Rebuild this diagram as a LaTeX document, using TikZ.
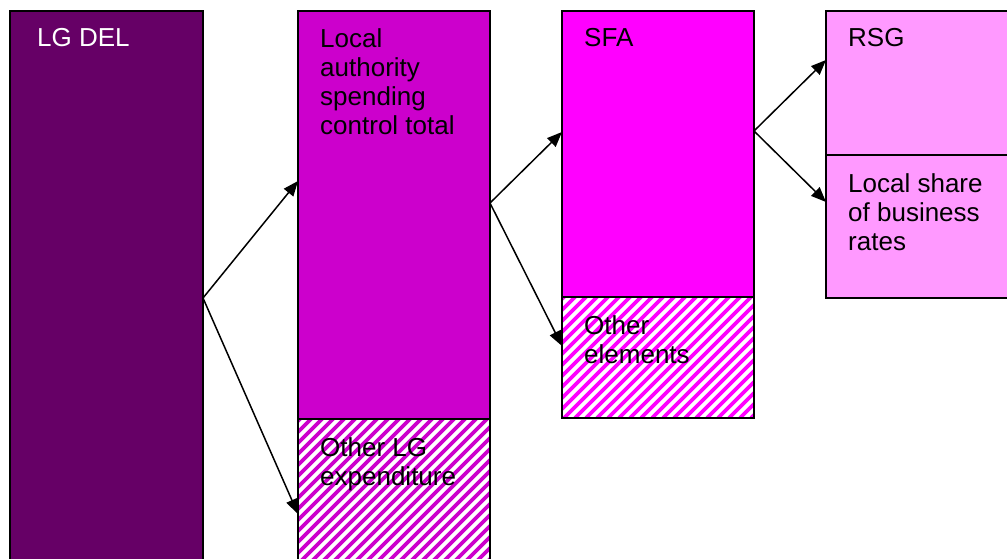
\documentclass[tikz,border=0pt]{standalone}
\usepackage{fontspec}
\setmainfont{Liberation Sans}
\usetikzlibrary{arrows.meta}
\definecolor{cdel}{HTML}{660066}
\definecolor{cla}{HTML}{CC00CC}
\definecolor{csfa}{HTML}{FF00FF}
\definecolor{crsg}{HTML}{FF99FF}
\tikzset{
  box/.style={draw=black, line width=1.6pt, inner sep=0pt, outer sep=0pt, anchor=north west},
  lbl/.style={anchor=north west, align=left, inner sep=0pt, font=\fontsize{26}{29.2}\selectfont},
  conn/.style={draw=black, line width=1.5pt, -{Triangle[length=15pt,width=12pt]}}
}
\begin{document}
\begin{tikzpicture}[x=1pt,y=-1pt]
\useasboundingbox (0,0) rectangle (1007,559);
\clip (0,0) rectangle (1007,559);
\fill[white] (0,0) rectangle (1007,559);
% LG DEL
\node[box, fill=cdel, minimum width=193pt, minimum height=560pt] (del) at (10,11) {};
\node[lbl, text=white] (tdel) at (37,28) {LG DEL};
% Local authority spending
\node[box, fill=cla, minimum width=192pt, minimum height=408pt] (la) at (298,11) {};
\node[lbl] (tla) at (320,28) {Local\\authority\\spending\\control total};
% Other LG hatched
\begin{scope}
\clip (298,419) rectangle (490,570);
\fill[white] (298,419) rectangle (490,570);
\foreach \i in {0,...,40} {
  \draw[cla, line width=3.8pt] (298+\i*11-160,570) -- (298+\i*11,410);
}
\end{scope}
\node[box, minimum width=192pt, minimum height=145pt] (olg) at (298,419) {};
\node[lbl] (tolg) at (320,437) {Other LG\\expenditure};
% SFA
\node[box, fill=csfa, minimum width=192pt, minimum height=286pt] (sfa) at (562,11) {};
\node[lbl] (tsfa) at (584,28) {SFA};
\begin{scope}
\clip (562,297) rectangle (754,418);
\fill[white] (562,297) rectangle (754,418);
\foreach \i in {0,...,32} {
  \draw[csfa, line width=3.8pt] (562+\i*11-130,418) -- (562+\i*11,288);
}
\end{scope}
\node[box, minimum width=192pt, minimum height=121pt] (oel) at (562,297) {};
\node[lbl] (toel) at (584,315) {Other\\elements};
% RSG
\node[box, fill=crsg, minimum width=200pt, minimum height=144pt] (rsg) at (826,11) {};
\node[lbl] (trsg) at (848,28) {RSG};
\node[box, fill=crsg, minimum width=200pt, minimum height=143pt] (lsb) at (826,155) {};
\node[lbl] (tlsb) at (848,173) {Local share\\of business\\rates};
% connectors
\coordinate (s1) at (203,298);
\coordinate (e1a) at (298,181);
\coordinate (e1b) at (298,514);
\coordinate (s2) at (490,203);
\coordinate (e2a) at (562,132);
\coordinate (e2b) at (562,346);
\coordinate (s3) at (754,131);
\coordinate (e3a) at (826,60);
\coordinate (e3b) at (826,202);
\draw[conn] (s1) -- (e1a);
\draw[conn] (s1) -- (e1b);
\draw[conn] (s2) -- (e2a);
\draw[conn] (s2) -- (e2b);
\draw[conn] (s3) -- (e3a);
\draw[conn] (s3) -- (e3b);
\end{tikzpicture}
\end{document}
